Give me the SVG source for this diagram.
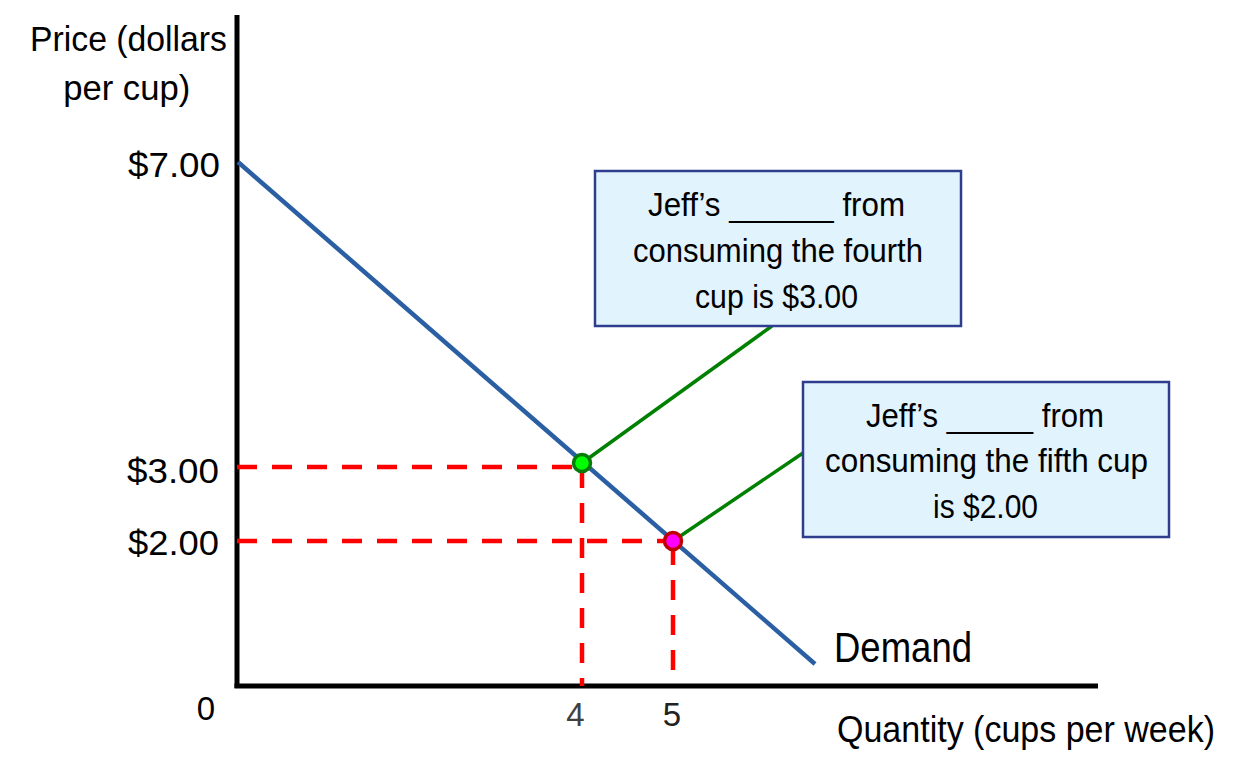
<svg xmlns="http://www.w3.org/2000/svg" width="1239" height="779" viewBox="0 0 1239 779">
<style>
text{font-family:"Liberation Sans",Arial,sans-serif;fill:#000}
.lbl{font-size:35px}
.box text{font-size:34px;text-anchor:middle}
.box rect{fill:#e1f3fd;stroke:#2f3d8f;stroke-width:2.5}
.axis{stroke:#000;stroke-width:5;fill:none}
.dash{stroke:#ff0000;stroke-width:4.5;stroke-dasharray:20 15;fill:none}
.lead{stroke:#008000;stroke-width:3.5;fill:none}
.tick{font-size:33px;text-anchor:middle}
</style>
<rect width="1239" height="779" fill="#fff"/>
<g id="axes">
<line class="axis" x1="237" y1="15" x2="237" y2="688"/>
<line class="axis" x1="234.5" y1="686" x2="1098" y2="686"/>
</g>
<g id="connectors">
<line class="dash" x1="237" y1="467" x2="582" y2="467"/>
<line class="dash" x1="237" y1="541" x2="673" y2="541"/>
<line class="dash" x1="582" y1="468" x2="582" y2="686"/>
<line class="dash" x1="673" y1="545" x2="673" y2="670"/>
<line class="lead" x1="582" y1="463" x2="772" y2="326"/>
<line class="lead" x1="673" y1="541" x2="803" y2="453"/>
</g>
<g id="demand">
<line x1="238" y1="162" x2="815" y2="664" stroke="#2b5fa3" stroke-width="4.5"/>
<text x="834" y="662" font-size="42" textLength="138" lengthAdjust="spacingAndGlyphs">Demand</text>
</g>
<g id="point-4">
<circle cx="582" cy="463" r="8.5" fill="#00ff00" stroke="#0a7a0a" stroke-width="3.5"/>
</g>
<g id="point-5">
<circle cx="673" cy="541" r="8.5" fill="#ff00ff" stroke="#c00000" stroke-width="3.5"/>
</g>
<g id="box-fourth" class="box">
<rect x="595" y="171" width="366" height="155"/>
<text x="776.5" y="215.5" textLength="257" lengthAdjust="spacingAndGlyphs">Jeff’s ______ from</text>
<text x="778" y="261.7" textLength="290" lengthAdjust="spacingAndGlyphs">consuming the fourth</text>
<text x="776.5" y="308.3" textLength="163" lengthAdjust="spacingAndGlyphs">cup is $3.00</text>
</g>
<g id="box-fifth" class="box">
<rect x="803" y="382" width="366" height="155"/>
<text x="985" y="426.7" textLength="238" lengthAdjust="spacingAndGlyphs">Jeff’s _____ from</text>
<text x="986.5" y="471.7" textLength="323" lengthAdjust="spacingAndGlyphs">consuming the fifth cup</text>
<text x="985.5" y="518" textLength="105" lengthAdjust="spacingAndGlyphs">is $2.00</text>
</g>
<g id="y-labels">
<text class="lbl" x="128.5" y="51" text-anchor="middle" textLength="197" lengthAdjust="spacingAndGlyphs">Price (dollars</text>
<text class="lbl" x="126.7" y="100" text-anchor="middle" textLength="127" lengthAdjust="spacingAndGlyphs">per cup)</text>
<text class="lbl" x="128" y="177" textLength="92" lengthAdjust="spacingAndGlyphs">$7.00</text>
<text class="lbl" x="127" y="483" textLength="92" lengthAdjust="spacingAndGlyphs">$3.00</text>
<text class="lbl" x="128" y="555" textLength="91" lengthAdjust="spacingAndGlyphs">$2.00</text>
</g>
<g id="x-labels">
<text class="tick" x="206" y="720">0</text>
<text class="tick" x="575.5" y="725.7" style="fill:#404040">4</text>
<text class="tick" x="672" y="725.7" style="fill:#222">5</text>
<text x="837" y="741.7" font-size="36" textLength="378" lengthAdjust="spacingAndGlyphs">Quantity (cups per week)</text>
</g>
</svg>
